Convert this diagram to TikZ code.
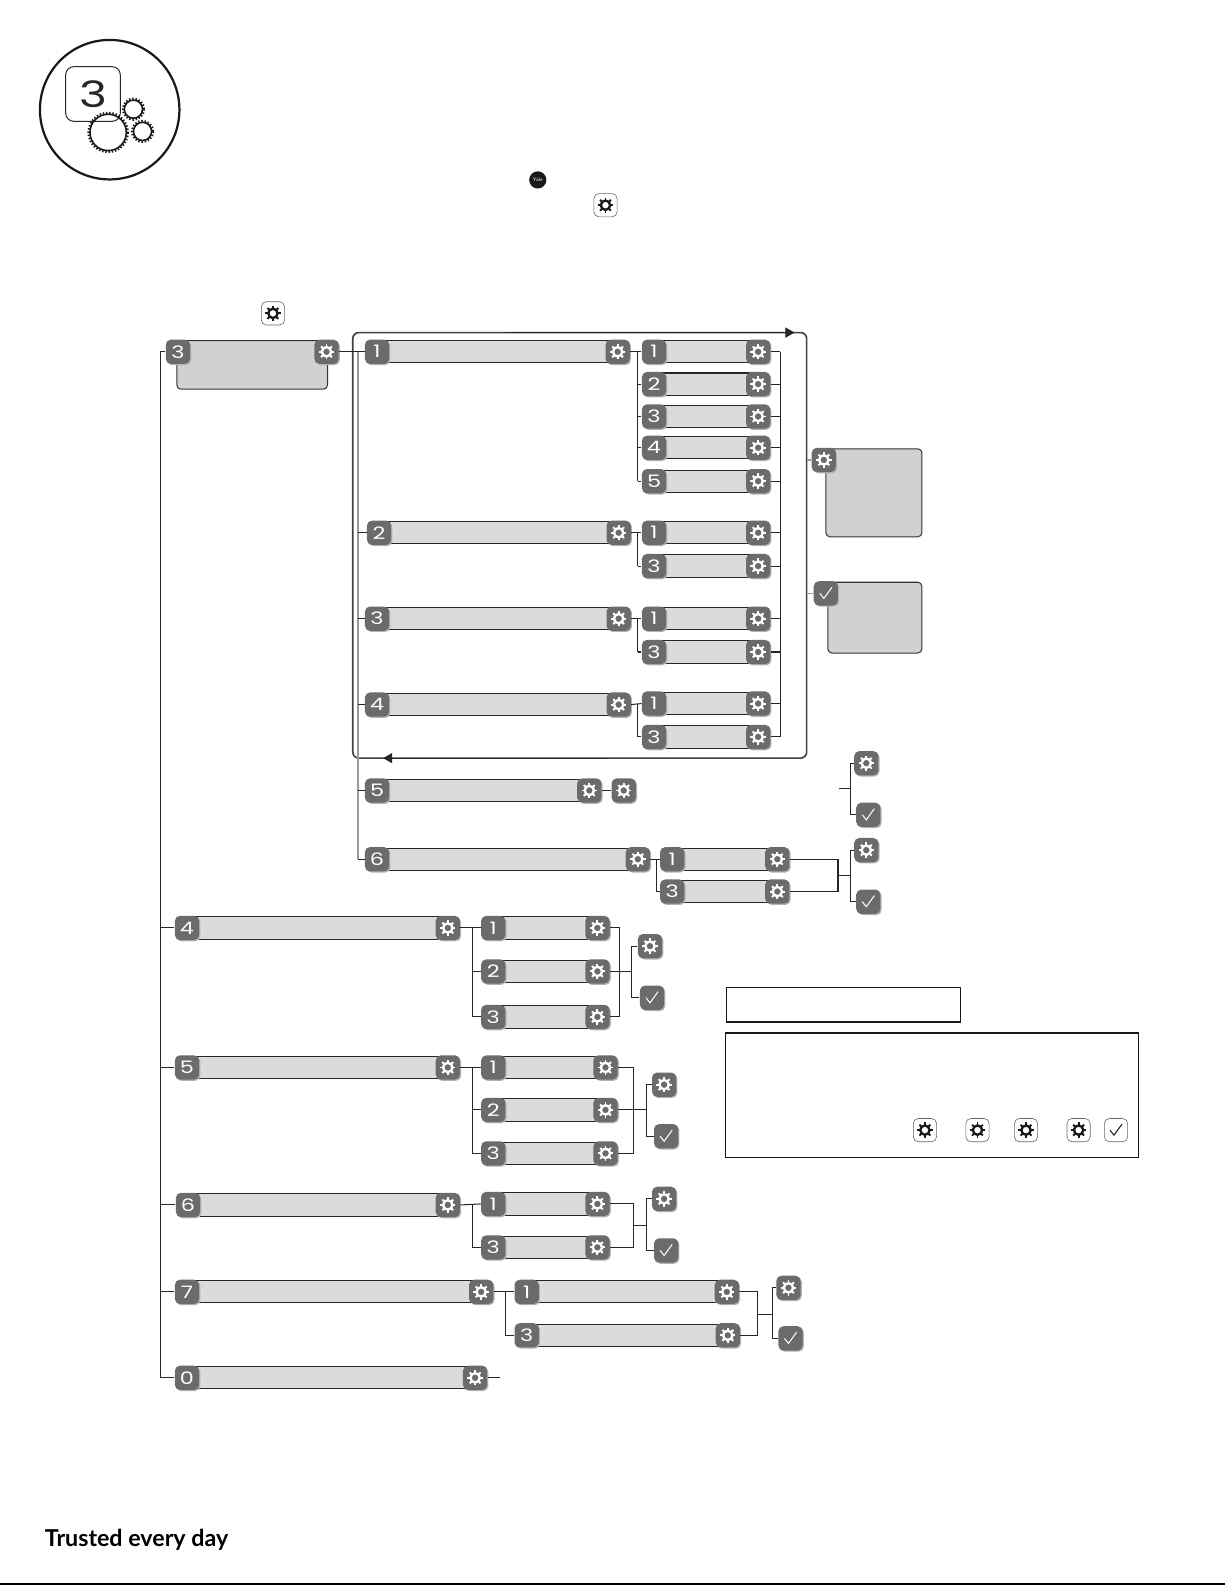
\documentclass[tikz,border=0pt]{standalone}
\usepackage{fontspec}
\usetikzlibrary{arrows.meta}
\usetikzlibrary{shadows}
\newfontfamily\digitfont[FakeStretch=1.3]{Poppins}
\newfontfamily\tagfont{Lato}
\tikzset{
    wire/.style={draw=black!85, line width=.5pt},
    greywire/.style={draw=black!40, line width=.7pt},
    darkkey/.style={fill=black!58, rounded corners=2.5pt, minimum size=12pt, inner sep=0pt, text=white,
        font=\digitfont\fontsize{8.5}{10}\selectfont,
        drop shadow={shadow xshift=.6pt, shadow yshift=-.6pt, fill=black!30, opacity=1}},
    lightkey/.style={draw=black!60, line width=.3pt, fill=white, rounded corners=2.5pt, minimum size=11.5pt, inner sep=0pt},
    barfill/.style={fill=black!14},
    panelbox/.style={fill=black!18, draw=black!80, line width=.5pt, rounded corners=2pt},
    cogrim/.style={draw=black!90, line width=.8pt},
    cogteeth/.style={draw=black!90, line width=1pt, dash pattern=on .7pt off .9pt},
    framebox/.style={draw=black!90, line width=.6pt},
    looparrow/.style={wire, -{Triangle[length=4.5pt, width=5pt]}},
    pics/gearicon/.style={code={
        \draw[#1, line width=1.2pt] (0,0) circle (4.6);
        \foreach \a in {0,45,...,315} \draw[#1, line width=.95pt, rotate=\a] (0,5) -- (0,7.6);
    }},
    pics/checkicon/.style={code={
        \draw[#1, line width=.5pt] (-6,0) -- (-2,5) -- (6,-6);
    }}
}
\newcommand{\gearkey}[3]{
    \node[darkkey] (#1) at (#2,#3) {};
    \pic at (#1) {gearicon=white};
}
\newcommand{\checkkey}[3]{
    \node[darkkey] (#1) at (#2,#3) {};
    \pic at (#1) {checkicon=white};
}
\newcommand{\whitegear}[3]{
    \node[lightkey] (#1) at (#2,#3) {};
    \pic at (#1) {gearicon=black!90};
}
\newcommand{\menurow}[5]{
    \fill[barfill] (#2,#4-11) rectangle (#3,#4+11);
    \draw[wire] (#2,#4-11) -- (#3,#4-11) (#2,#4+11) -- (#3,#4+11);
    \node[darkkey] (#1) at (#2,#4) {#5};
    \gearkey{#1-g}{#3}{#4}
}

\begin{document}
\begin{tikzpicture}[x=.5pt, y=-.5pt]
    \useasboundingbox (0,0) rectangle (1212,1568);
    \draw[draw=black!90, line width=1.1pt] (108.5,108.5) circle (69);
    \draw[draw=black!85, line width=.5pt, rounded corners=4pt] (65,66) rectangle (119,120);
    \node[inner sep=0pt, font=\digitfont\fontsize{18}{20}\selectfont, text=black!85] (logonum) at (92,93) {3};
    \foreach \cx/\cy/\cr in {107/131/18,132/108/9,141/130/9} {
        \draw[cogrim] (\cx,\cy) circle (\cr);
        \draw[cogteeth] (\cx,\cy) circle (\cr+1.5);
    }
    \node[circle, fill=black!90, minimum size=8.5pt, inner sep=0pt, text=white, font=\fontsize{2.6}{3}\selectfont\sffamily] (yale) at (532,178) {Yale};
    \whitegear{introgear}{599}{203}
    \whitegear{stepgear}{270}{310}

    % lockout loop
    \draw[draw=black!75, line width=.8pt, rounded corners=3pt] (349,329) rectangle (798,750);
    \coordinate (looptop) at (500,329);
    \coordinate (looptip) at (786,329);
    \coordinate (loopbot) at (600,750);
    \coordinate (looptail) at (379,750);
    \draw[looparrow] (looptop) -- (looptip);
    \draw[looparrow] (loopbot) -- (looptail);

    \coordinate (mbus) at (158.5,0);
    \coordinate (sbus) at (354,0);
    \draw[panelbox] (175,337) rectangle (324,385);
    \node[darkkey] (top3) at (176,348) {3};
    \gearkey{top3-g}{323}{348}

    \foreach \nm/\xa/\xb/\yy/\dg in {r1/373/611/348/1,r2/375/612/527/2,r3/373/612/612/3,r4/373/612/697/4,r5/373/583/782/5,r6/373/631/850/6,
        m4/185/443/918/4,m5/185/443/1056/5,m6/186/443/1192/6,m7/185/476/1278/7,m0/185/470/1363/0} {
        \menurow{\nm}{\xa}{\xb}{\yy}{\dg}
    }
    \foreach \nm/\yy/\dg in {r1a/348/1,r1b/380/2,r1c/412/3,r1d/443/4,r1e/476/5,r2a/527/1,r2b/560/3,r3a/612/1,r3b/645/3,r4a/696/1,r4b/729/3} {
        \menurow{\nm}{647}{750}{\yy}{\dg}
    }
    \foreach \nm/\xb/\yy/\dg in {m4a/591/918/1,m4b/591/961/2,m4c/591/1006/3,m5a/599/1056/1,m5b/599/1098/2,m5c/599/1141/3,m6a/591/1191/1,m6b/591/1234/3} {
        \menurow{\nm}{488}{\xb}{\yy}{\dg}
    }
    \menurow{r6a}{665}{769}{850}{1}
    \menurow{r6b}{665}{769}{882}{3}
    \menurow{m7a}{521}{719}{1278}{1}
    \menurow{m7b}{521}{720}{1321}{3}
    \gearkey{r5x}{617}{782}

    \draw[wire] (top3.west) -| (mbus |- m0) -- (m0.west);
    \foreach \nm in {m4,m5,m6,m7} \draw[wire] (mbus |- \nm) -- (\nm.west);
    \draw[wire] (top3-g.east) -- (r1.west);
    \draw[greywire] (sbus |- r1) -- (sbus |- r6);
    \foreach \nm in {r1,r2,r3,r4,r5,r6} \draw[wire] (sbus |- \nm) -- (\nm.west);
    \draw[wire] (r5-g.east) -- (r5x.west);
    \draw[wire] (m0-g.east) -- ++(12,0) coordinate (m0end);

    \coordinate (busa) at (631,0);
    \coordinate (busb) at (772,0);
    \foreach \nm in {r1,r2,r3,r4} \draw[wire] (\nm-g.east) -- (\nm a.west);
    \draw[wire] (busa |- r1a) -- (busa |- r1e);
    \draw[wire] (busa |- r2a) -- (busa |- r2b);
    \draw[wire] (busa |- r3a) -- (busa |- r3b);
    \draw[wire] (busa |- r4a) -- (busa |- r4b);
    \foreach \nm in {r1b,r1c,r1d,r1e,r2b,r3b,r4b} \draw[wire] (busa |- \nm) -- (\nm.west);
    \draw[wire] (busb |- r1a) -- (busb |- r4b);
    \foreach \nm in {r1a,r1b,r1c,r1d,r1e,r2a,r2b,r3a,r3b,r4a,r4b} \draw[wire] (\nm-g.east) -- (busb |- \nm);

    % panels on the loop
    \draw[panelbox] (817,444) rectangle (912,531);
    \gearkey{loopg}{815}{455}
    \draw[panelbox] (819,576) rectangle (912,646);
    \checkkey{loopc}{817}{587}
    \draw[greywire] (798,455) -- (loopg.west);
    \draw[greywire] (798,587) -- (loopc.west);

    % save or cancel forks
    \foreach \fk/\ga/\yg/\yc/\fx/\fy in {fa/857/755/806/841/780,fb/857/841/892/841/866,fc/643/936/987/625/961,fd/657/1073/1124/640/1098,fe/657/1186/1237/640/1212,ff/780/1274/1324/764/1300} {
        \gearkey{\fk g}{\ga}{\yg}
        \checkkey{\fk c}{\ga+2}{\yc}
        \coordinate (\fk) at (\fx,\fy);
        \draw[wire] (\fk g.west) -| (\fk) |- (\fk c.west);
    }
    \coordinate (faend) at (830,780);
    \draw[wire] (faend) -- (fa);

    \draw[wire] (r6-g.east) -- (r6a.west);
    \coordinate (busc) at (649,0);
    \draw[wire] (busc |- r6a) |- (r6b.west);
    \coordinate (busd) at (829,0);
    \draw[wire] (r6a-g.east) -| (busd |- r6b) -- (r6b-g.east);
    \draw[wire] (busd |- fb) -- (fb);

    \coordinate (buse) at (467,0);
    \draw[wire] (m4-g.east) -- (m4a.west);
    \draw[wire] (buse |- m4a) |- (m4c.west);
    \draw[wire] (buse |- m4b) -- (m4b.west);
    \coordinate (busf) at (613,0);
    \draw[wire] (m4a-g.east) -| (busf |- m4c) -- (m4c-g.east);
    \draw[wire] (m4b-g.east) -- (fc);

    \draw[wire] (m5-g.east) -- (m5a.west);
    \draw[wire] (buse |- m5a) |- (m5c.west);
    \draw[wire] (buse |- m5b) -- (m5b.west);
    \coordinate (busg) at (627,0);
    \draw[wire] (m5a-g.east) -| (busg |- m5c) -- (m5c-g.east);
    \draw[wire] (m5b-g.east) -- (fd);

    \draw[wire] (m6-g.east) -- (m6a.west);
    \draw[wire] (buse |- m6a) |- (m6b.west);
    \draw[wire] (m6a-g.east) -| (busg |- m6b) -- (m6b-g.east);
    \draw[wire] (busg |- fe) -- (fe);

    \coordinate (bush) at (500,0);
    \draw[wire] (m7-g.east) -- (m7a.west);
    \draw[wire] (bush |- m7a) |- (m7b.west);
    \coordinate (busi) at (749,0);
    \draw[wire] (m7a-g.east) -| (busi |- m7b) -- (m7b-g.east);
    \draw[wire] (busi |- ff) -- (ff);

    % notes
    \draw[framebox] (719,977) rectangle (950,1011);
    \draw[framebox] (718,1022) rectangle (1126,1145);
    \foreach \nm/\xx in {notea/915,noteb/967,notec/1015,noted/1067} {
        \whitegear{\nm}{\xx}{1118}
    }
    \node[lightkey] (notee) at (1104,1118) {};
    \pic at (notee) {checkicon=black!90};

    \node[anchor=base west, inner sep=0pt, font=\tagfont\bfseries\fontsize{11.5}{12}\selectfont, text=black] (tagline) at (44,1530) {Trusted every day};
    \draw[draw=black, line width=.7pt] (0,1567) -- (1212,1567);
\end{tikzpicture}
\end{document}
